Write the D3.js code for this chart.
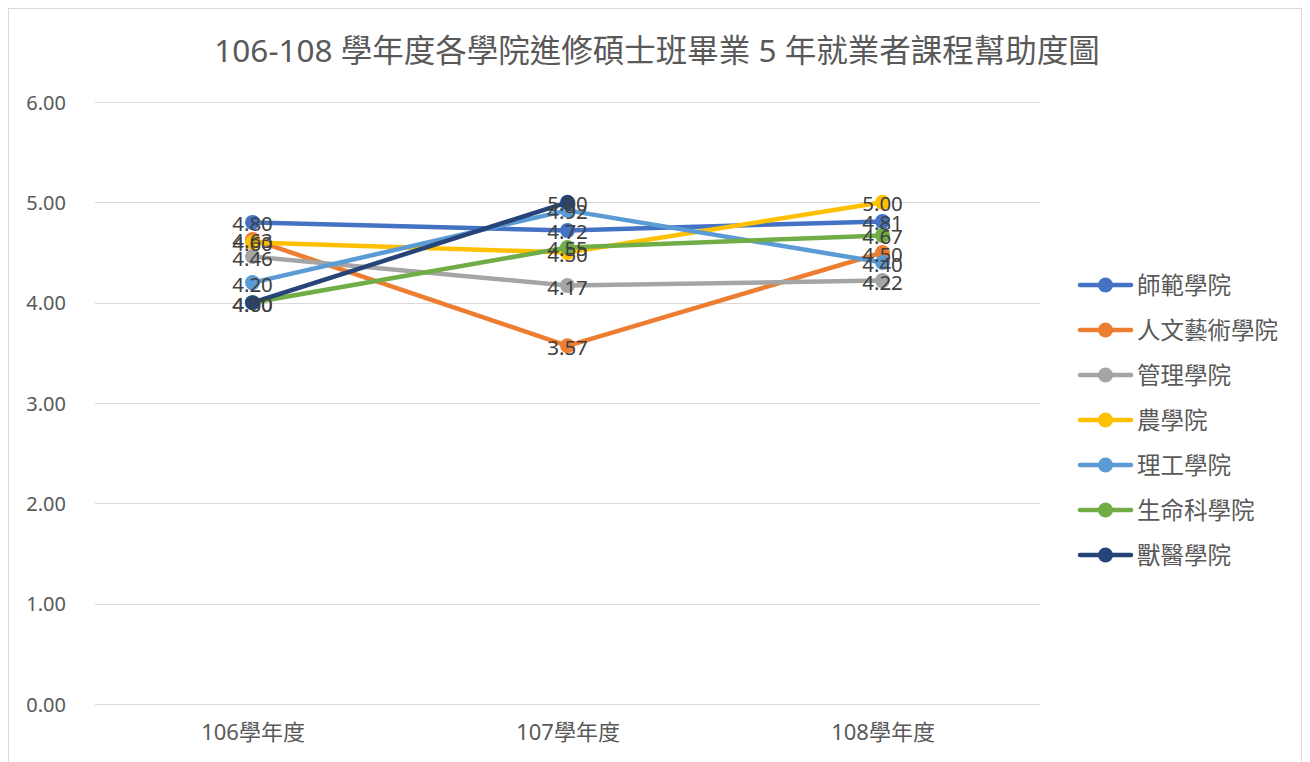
<!DOCTYPE html>
<html>
<head>
<meta charset="utf-8">
<script src="https://cdn.jsdelivr.net/npm/d3@7"></script>
<style>
html,body{margin:0;padding:0;background:#fff;}
svg{display:block;font-family:"Noto Sans","Noto Sans CJK TC",sans-serif;}
</style>
</head>
<body>
<svg id="chart" width="1310" height="762"></svg>
<script>
const title = "106-108 學年度各學院進修碩士班畢業 5 年就業者課程幫助度圖";
const categories = ["106學年度", "107學年度", "108學年度"];
const seriesNames = ["師範學院", "人文藝術學院", "管理學院", "農學院", "理工學院", "生命科學院", "獸醫學院"];
const seriesColors = ["#4472C4", "#ED7D31", "#A5A5A5", "#FFC000", "#5B9BD5", "#70AD47", "#264478"];
const values師範 = [4.80, 4.72, 4.81];
const values人文 = [4.63, 3.57, 4.50];
const values管理 = [4.46, 4.17, 4.22];
const values農 = [4.60, 4.50, 5.00];
const values理工 = [4.20, 4.92, 4.40];
const values生命 = [4.00, 4.55, 4.67];
const values獸醫 = [4.00, 5.00, null];
const yTicks = [0, 1, 2, 3, 4, 5, 6];

const seriesValues = [values師範, values人文, values管理, values農, values理工, values生命, values獸醫];
const series = seriesNames.map((n, i) => ({name: n, color: seriesColors[i], values: seriesValues[i]}));

const svg = d3.select("#chart");
const plot = {left: 95, right: 1040, top: 102, bottom: 704};

svg.append("rect").attr("x", 8.5).attr("y", 8.5).attr("width", 1293).attr("height", 770)
  .attr("fill", "#fff").attr("stroke", "#d9d9d9").attr("stroke-width", 1);

const x = d3.scalePoint().domain(categories).range([plot.left, plot.right]).padding(0.5);
const y = d3.scaleLinear().domain([0, 6]).range([plot.bottom, plot.top]);

svg.append("text").attr("x", 657).attr("y", 49).attr("text-anchor", "middle")
  .attr("dominant-baseline", "central")
  .attr("font-size", 31.5).attr("fill", "#595959").text(title);

svg.append("g").selectAll("line").data(yTicks).join("line")
  .attr("x1", plot.left).attr("x2", plot.right)
  .attr("y1", d => Math.round(y(d)) + 0.5).attr("y2", d => Math.round(y(d)) + 0.5)
  .attr("stroke", "#d9d9d9").attr("stroke-width", 1);

const yAxis = d3.axisLeft(y).tickValues(yTicks).tickFormat(d3.format(".2f")).tickSize(0).tickPadding(0);
const yg = svg.append("g").attr("transform", `translate(66,0)`).call(yAxis);
yg.select(".domain").remove();
yg.selectAll("text").attr("font-size", 20).attr("fill", "#595959")
  .attr("font-family", "'Noto Sans','Noto Sans CJK TC',sans-serif").attr("dy", "0.35em");

const xAxis = d3.axisBottom(x).tickSize(0).tickPadding(0);
const xg = svg.append("g").attr("transform", `translate(0,${plot.bottom + 19})`).call(xAxis);
xg.select(".domain").remove();
xg.selectAll("text").attr("font-size", 22).attr("fill", "#595959")
  .attr("font-family", "'Noto Sans','Noto Sans CJK TC',sans-serif").attr("dy", "0.75em");

const line = d3.line().defined(d => d.v != null).x(d => x(d.c)).y(d => y(d.v));
series.forEach(s => {
  const pts = s.values.map((v, i) => ({c: categories[i], v}));
  const g = svg.append("g");
  g.append("path").datum(pts).attr("d", line).attr("fill", "none")
    .attr("stroke", s.color).attr("stroke-width", 4.5).attr("stroke-linecap", "round").attr("stroke-linejoin", "round");
  g.selectAll("circle").data(pts.filter(d => d.v != null)).join("circle")
    .attr("cx", d => x(d.c)).attr("cy", d => y(d.v)).attr("r", 7.5).attr("fill", s.color);
});

series.forEach(s => {
  const pts = s.values.map((v, i) => ({c: categories[i], v})).filter(d => d.v != null);
  svg.append("g").selectAll("text").data(pts).join("text")
    .attr("x", d => x(d.c)).attr("y", d => y(d.v) + 1)
    .attr("text-anchor", "middle").attr("dominant-baseline", "central")
    .attr("font-size", 20.5).attr("fill", "#404040").text(d => d.v.toFixed(2));
});

const lg = svg.append("g");
series.forEach((s, i) => {
  const yy = 285 + i * 45;
  lg.append("line").attr("x1", 1080).attr("x2", 1131).attr("y1", yy).attr("y2", yy)
    .attr("stroke", s.color).attr("stroke-width", 4.5).attr("stroke-linecap", "round");
  lg.append("circle").attr("cx", 1105.5).attr("cy", yy).attr("r", 7.5).attr("fill", s.color);
  lg.append("text").attr("x", 1137).attr("y", yy).attr("dominant-baseline", "central")
    .attr("font-size", 23.5).attr("fill", "#595959").text(s.name);
});
</script>
</body>
</html>
